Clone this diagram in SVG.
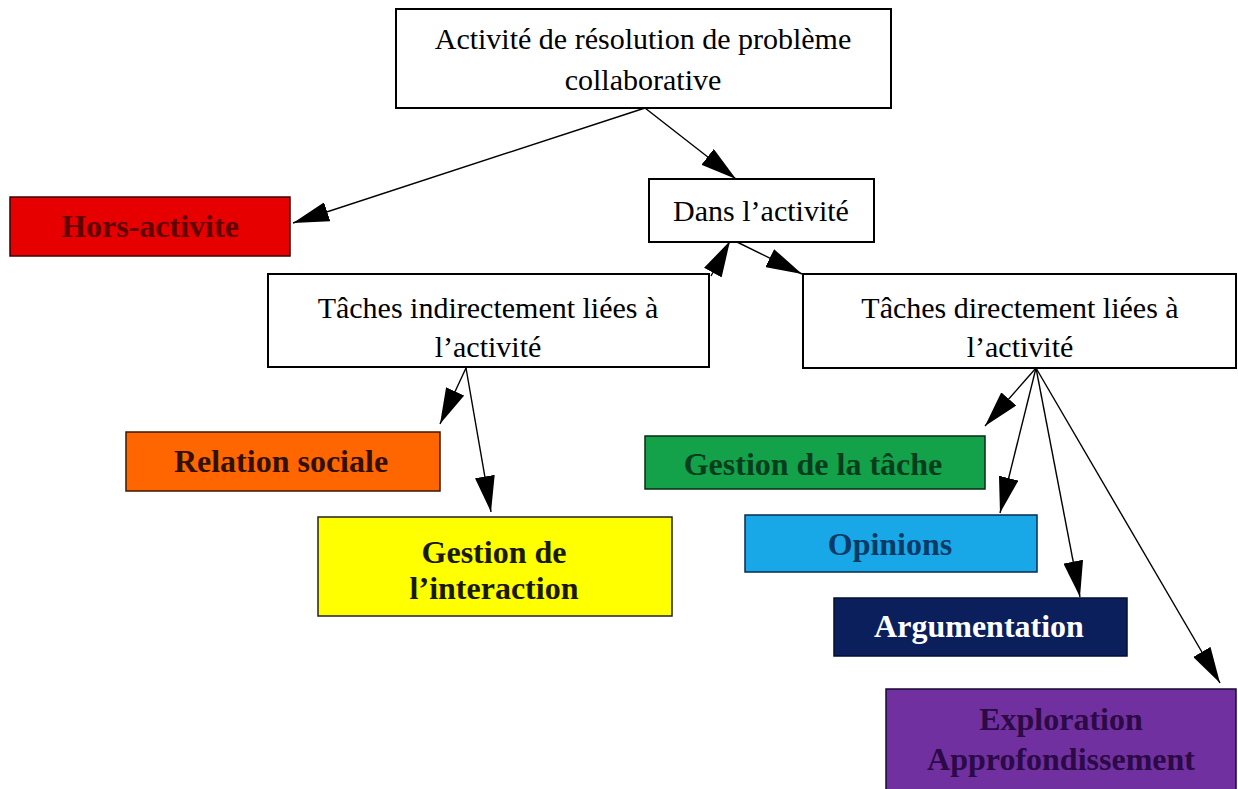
<svg xmlns="http://www.w3.org/2000/svg" width="1238" height="789" viewBox="0 0 1238 789">
<defs>
<marker id="ah" markerUnits="userSpaceOnUse" markerWidth="36" markerHeight="20" refX="36" refY="10" orient="auto">
<path d="M0,0 L36,10 L0,20 z" fill="#000"/>
</marker>
<style>
.w{fill:#fff;stroke:#000;stroke-width:2}
.c{stroke:#1a1a1a;stroke-width:1.5}
.t{font-family:"Liberation Serif","Times New Roman",serif;font-size:30px;fill:#000;text-anchor:middle}
.b{font-family:"Liberation Serif","Times New Roman",serif;font-size:32px;font-weight:bold;text-anchor:middle}
#connectors line{stroke:#000;stroke-width:1.4;marker-end:url(#ah)}
</style>
</defs>
<rect width="1238" height="789" fill="#fff"/>

<g id="connectors">
<line x1="645" y1="108" x2="293" y2="223"/>
<line x1="645" y1="108" x2="736" y2="179"/>
<line x1="711" y1="276" x2="730" y2="241"/>
<line x1="737" y1="242" x2="802" y2="274"/>
<line x1="466" y1="368" x2="440" y2="424"/>
<line x1="466" y1="368" x2="491" y2="512"/>
<line x1="1036" y1="368" x2="985" y2="426"/>
<line x1="1036" y1="368" x2="1000" y2="513"/>
<line x1="1036" y1="368" x2="1080" y2="597"/>
<line x1="1036" y1="368" x2="1220" y2="683"/>
</g>

<g id="n-root">
<rect class="w" x="396" y="9" width="495" height="99"/>
<text class="t" x="643" y="49">Activité de résolution de problème</text>
<text class="t" x="643" y="90">collaborative</text>
</g>

<g id="n-hors">
<rect x="10" y="197" width="280" height="59" fill="#E60000" stroke="#3a0000" stroke-width="1.5"/>
<text class="b" x="150" y="237" fill="#600000">Hors-activite</text>
</g>

<g id="n-dans">
<rect class="w" x="649" y="179" width="225" height="63"/>
<text class="t" x="761" y="221">Dans l’activité</text>
</g>

<g id="n-indirect">
<rect class="w" x="268" y="274" width="441" height="93"/>
<text class="t" x="488" y="318">Tâches indirectement liées à</text>
<text class="t" x="488" y="357">l’activité</text>
</g>

<g id="n-direct">
<rect class="w" x="803" y="274" width="433" height="94"/>
<text class="t" x="1020" y="318">Tâches directement liées à</text>
<text class="t" x="1020" y="357">l’activité</text>
</g>

<g id="n-relation">
<rect x="126" y="432" width="314" height="59" fill="#FF6600" stroke="#3a1a00" stroke-width="1.5"/>
<text class="b" x="281" y="472" fill="#331100">Relation sociale</text>
</g>

<g id="n-interaction">
<rect x="318" y="517" width="354" height="99" fill="#FFFF00" stroke="#222" stroke-width="1.5"/>
<text class="b" x="494" y="563" fill="#1a1a00">Gestion de</text>
<text class="b" x="494" y="599" fill="#1a1a00">l’interaction</text>
</g>

<g id="n-tache">
<rect x="645" y="436" width="340" height="53" fill="#13A14A" stroke="#0a2a12" stroke-width="1.5"/>
<text class="b" x="813" y="475" fill="#063d1c">Gestion de la tâche</text>
</g>

<g id="n-opinions">
<rect x="745" y="515" width="292" height="57" fill="#18A8E8" stroke="#0a2a50" stroke-width="1.5"/>
<text class="b" x="890" y="555" fill="#0b3a66">Opinions</text>
</g>

<g id="n-argumentation">
<rect x="834" y="598" width="293" height="58" fill="#0A1F5C" stroke="#050f30" stroke-width="1.5"/>
<text class="b" x="979" y="637" fill="#fff">Argumentation</text>
</g>

<g id="n-exploration">
<rect x="886" y="689" width="350" height="110" fill="#7030A0" stroke="#1a0a30" stroke-width="1.5"/>
<text class="b" x="1061" y="730" fill="#2b0a45">Exploration</text>
<text class="b" x="1061" y="770" fill="#2b0a45">Approfondissement</text>
</g>
</svg>
